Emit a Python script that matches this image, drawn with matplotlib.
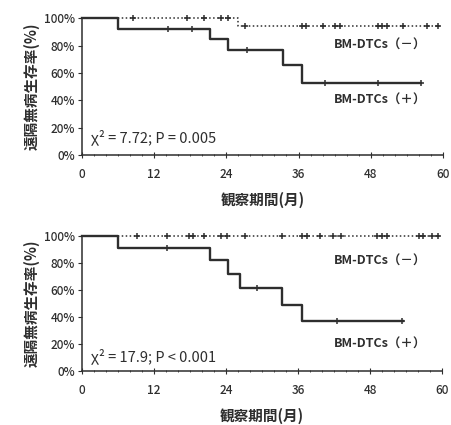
import matplotlib
matplotlib.use("Agg")
import matplotlib.pyplot as plt
from matplotlib.ticker import MultipleLocator, PercentFormatter

plt.rcParams['font.family'] = ['Noto Sans CJK JP', 'DejaVu Sans']

# top panel: step curves (time of step, survival after step)
top_pos_t = [0, 6, 21.3, 24.3, 33.5, 36.5, 56.4]
top_pos_s = [1.0, 0.923, 0.846, 0.769, 0.659, 0.527, 0.527]
top_pos_cens_t = [14.4, 18.3, 27.4, 40.4, 49.2, 56.4]
top_pos_cens_s = [0.923, 0.923, 0.769, 0.527, 0.527, 0.527]

top_neg_t = [0, 26.0, 59.5]
top_neg_s = [1.0, 0.947, 0.947]
top_neg_cens_t = [8.5, 17.4, 20.3, 23.2, 24.3,
                  27.1, 36.5, 37.2, 40.0, 42.0, 42.9, 49.2, 49.9, 50.7, 53.4, 57.4, 59.2]
top_neg_cens_s = [1.0] * 5 + [0.947] * 12

# bottom panel
bot_pos_t = [0, 6.1, 21.4, 24.4, 26.4, 33.3, 36.7, 53.5]
bot_pos_s = [1.0, 0.909, 0.818, 0.716, 0.614, 0.491, 0.368, 0.368]
bot_pos_cens_t = [14.2, 29.2, 42.5, 53.3]
bot_pos_cens_s = [0.909, 0.614, 0.368, 0.368]

bot_neg_t = [0, 59.6]
bot_neg_s = [1.0, 1.0]
bot_neg_cens_t = [9.2, 14.2, 17.8, 18.6, 20.3, 23.1, 24.2, 27.2, 33.3, 36.7, 37.5,
                  39.7, 41.9, 43.1, 49.2, 50.0, 50.8, 56.1, 56.9, 58.3, 59.4]
bot_neg_cens_s = [1.0] * len(bot_neg_cens_t)

xticks = [0, 12, 24, 36, 48, 60]
yticks = [0, 0.2, 0.4, 0.6, 0.8, 1.0]
ylabel = '遠隔無病生存率(%)'
xlabel = '観察期間(月)'
neg_label = 'BM-DTCs（－）'
pos_label = 'BM-DTCs（＋）'

c = '#2e2e2e'

fig = plt.figure(figsize=(4.52, 4.25), dpi=100)


def draw_panel(rect, pos, neg, stat, neg_y, pos_y, stat_y):
    ax = fig.add_axes(rect)
    pt, ps, pct, pcs = pos
    nt, ns, nct, ncs = neg
    ax.step(nt, ns, where='post', color=c, lw=1.1, ls=(0, (1, 1.6)), clip_on=False, zorder=2)
    ax.plot(nct, ncs, ls='none', marker='+', ms=5, mew=1.1, color=c, clip_on=False, zorder=3)
    ax.step(pt, ps, where='post', color=c, lw=1.7, clip_on=False, zorder=4)
    ax.plot(pct, pcs, ls='none', marker='+', ms=5, mew=1.1, color=c, clip_on=False, zorder=5)
    ax.set_xlim(0, 60)
    ax.set_ylim(0, 1.0)
    ax.set_xticks(xticks)
    ax.set_yticks(yticks)
    ax.xaxis.set_minor_locator(MultipleLocator(2))
    ax.yaxis.set_major_formatter(PercentFormatter(1.0, decimals=0))
    for s in ['top', 'right']:
        ax.spines[s].set_visible(False)
    for s in ['left', 'bottom']:
        ax.spines[s].set_color(c)
        ax.spines[s].set_linewidth(1.1)
    ax.tick_params(axis='y', direction='out', length=3, color=c, labelsize=8.5, labelcolor=c, pad=2)
    ax.tick_params(axis='x', which='major', direction='inout', length=4, color=c,
                   labelsize=8.5, labelcolor=c, pad=7)
    ax.tick_params(axis='x', which='minor', direction='inout', length=2, color=c)
    for lab in ax.get_xticklabels() + ax.get_yticklabels():
        lab.set_fontweight('medium')
    ax.set_xlabel(xlabel, fontsize=10.5, color=c, labelpad=8, fontweight='bold')
    ax.set_ylabel(ylabel, fontsize=10.5, color=c, labelpad=3, fontweight='bold')
    ax.text(57.3, neg_y, neg_label, ha='right', va='center', fontsize=9, color=c, fontweight='bold')
    ax.text(57.3, pos_y, pos_label, ha='right', va='center', fontsize=9, color=c, fontweight='bold')
    ax.text(1.5, stat_y, stat, ha='left', va='center', fontsize=10.5, color=c)
    return ax


draw_panel([0.181, 0.635, 0.799, 0.322],
           (top_pos_t, top_pos_s, top_pos_cens_t, top_pos_cens_s),
           (top_neg_t, top_neg_s, top_neg_cens_t, top_neg_cens_s),
           'χ² = 7.72; P = 0.005', 0.80, 0.40, 0.13)

draw_panel([0.181, 0.127, 0.797, 0.318],
           (bot_pos_t, bot_pos_s, bot_pos_cens_t, bot_pos_cens_s),
           (bot_neg_t, bot_neg_s, bot_neg_cens_t, bot_neg_cens_s),
           'χ² = 17.9; P < 0.001', 0.81, 0.20, 0.11)

fig.savefig('out.png', dpi=100)
